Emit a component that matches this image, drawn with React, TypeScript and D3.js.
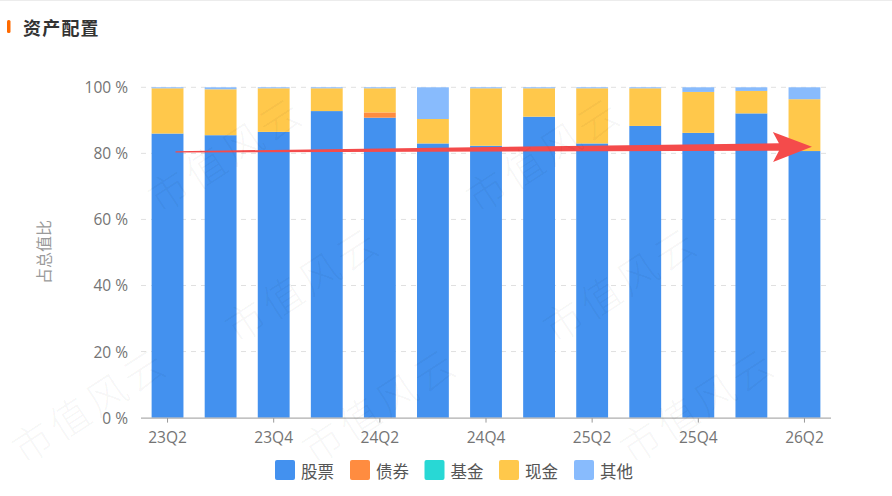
import React from 'react';
import * as d3 from 'd3';

const categories = ['23Q2', '23Q3', '23Q4', '24Q1', '24Q2', '24Q3', '24Q4', '25Q1', '25Q2', '25Q3', '25Q4', '26Q1', '26Q2'];
const stockValues = [86.0, 85.5, 86.5, 92.8, 90.8, 83.0, 82.3, 91.1, 83.0, 88.3, 86.2, 92.1, 80.7];
const bondValues = [0, 0, 0, 0, 1.6, 0, 0, 0, 0, 0, 0, 0, 0];
const fundValues = [0, 0, 0, 0, 0, 0, 0, 0, 0, 0, 0, 0, 0];
const cashValues = [13.7, 13.9, 13.2, 6.9, 7.3, 7.4, 17.4, 8.6, 16.7, 11.4, 12.4, 6.8, 15.7];
const otherValues = [0.3, 0.6, 0.3, 0.3, 0.3, 9.6, 0.3, 0.3, 0.3, 0.3, 1.4, 1.1, 3.6];

const seriesKeys = ['stock', 'bond', 'fund', 'cash', 'other'];
const seriesNames = ['股票', '债券', '基金', '现金', '其他'];
const seriesColors = ['#4391ef', '#ff8c40', '#28d8d5', '#ffc84b', '#88bbfd'];

const yTicks = [0, 20, 40, 60, 80, 100];
const xTickLabels = ['23Q2', '23Q4', '24Q2', '24Q4', '25Q2', '25Q4', '26Q2'];
const title = '资产配置';
const yAxisName = '占总值比';
const watermarkText = '市值风云';
// trend arrow annotation (value-space endpoints)
const arrowStartValue = 80.45;
const arrowEndValue = 82.0;

const W = 892;
const H = 496;
const LATIN = "'Open Sans', 'Noto Sans CJK SC', sans-serif";
const CJK = "'Noto Sans CJK SC', sans-serif";

export default function App() {
  const rows = categories.map((c, i) => ({
    cat: c,
    stock: stockValues[i],
    bond: bondValues[i],
    fund: fundValues[i],
    cash: cashValues[i],
    other: otherValues[i],
  }));
  const stacked = d3.stack<any>().keys(seriesKeys)(rows);

  const x = d3.scaleBand<string>().domain(categories).range([141, 831]).paddingInner(0.4).paddingOuter(0.2);
  const y = d3.scaleLinear().domain([0, 100]).range([417.6, 87.3]);
  const bw = x.bandwidth();
  const cx = (c: string) => (x(c) as number) + bw / 2;

  // arrow geometry
  const sx = cx(categories[0]) + 8;
  const sy = y(arrowStartValue);
  const tx = cx(categories[categories.length - 1]) + 7.5;
  const ty = y(arrowEndValue);
  const len = Math.hypot(tx - sx, ty - sy);
  const ux = (tx - sx) / len;
  const uy = (ty - sy) / len;
  const nx = -uy;
  const ny = ux;
  const headLen = 39;
  const bx = tx - ux * headLen;
  const by = ty - uy * headLen;
  const jx = bx + ux * 6;
  const jy = by + uy * 6;
  const pts: [number, number][] = [
    [sx + nx * 0.7, sy + ny * 0.7],
    [jx + nx * 3.8, jy + ny * 3.8],
    [bx + nx * 15, by + ny * 15],
    [tx, ty],
    [bx - nx * 15, by - ny * 15],
    [jx - nx * 3.8, jy - ny * 3.8],
    [sx - nx * 0.7, sy - ny * 0.7],
  ];
  const arrowPath = 'M' + pts.map((p) => p.join(',')).join('L') + 'Z';

  // watermark tiling (only instances that fit fully inside the frame)
  const marks: { x: number; y: number }[] = [];
  for (let r = 0; r < 4; r++) {
    for (let c = -1; c < 3; c++) {
      const mx = 83 + 77 * r + 318 * c;
      const my = 85 + 130 * r;
      const px = mx < 0 && mx > -10 ? 24 : mx;
      const py = my > H - 30 ? H - 30 : my;
      if (px >= 20 && px + 175 <= W && py - 135 >= 0 && py + 8 <= H) marks.push({ x: px, y: py });
    }
  }

  const legendX = [275, 350, 424.5, 499, 574];

  return (
    <svg
      width={W}
      height={H}
      viewBox={`0 0 ${W} ${H}`}
      style={{ position: 'absolute', left: 0, top: 0, background: '#fff', display: 'block' }}
    >
      <line x1={0} x2={W} y1={0.5} y2={0.5} stroke="#ececec" strokeWidth={1} />
      {/* title */}
      <rect x={7} y={20} width={3.5} height={13} rx={1.5} fill="#ff6a00" />
      <text x={23} y={35} fontFamily={CJK} fontSize={18} fontWeight={700} fill="#333" letterSpacing={1.2}>
        {title}
      </text>

      {/* grid lines */}
      {yTicks.filter((t) => t > 0).map((t) => (
        <line key={'g' + t} x1={141} x2={831} y1={y(t)} y2={y(t)} stroke="#e0e0e0" strokeWidth={1} strokeDasharray="5,5" />
      ))}

      {/* bars */}
      {stacked.map((s, si) => (
        <g key={s.key} fill={seriesColors[si]}>
          {s.map((d: any, i: number) => {
            const h = y(d[0]) - y(d[1]);
            if (h <= 0) return null;
            return <rect key={i} x={x(categories[i])} y={y(d[1])} width={bw} height={h} />;
          })}
        </g>
      ))}

      {/* x axis */}
      <line x1={141} x2={831} y1={y(0) + 0.5} y2={y(0) + 0.5} stroke="#999" strokeWidth={1} />
      {xTickLabels.map((c) => (
        <g key={'xt' + c}>
          <line x1={cx(c)} x2={cx(c)} y1={y(0) + 0.5} y2={y(0) + 5} stroke="#999" strokeWidth={1} />
          <text x={cx(c)} y={437} textAnchor="middle" dominantBaseline="central" fontFamily={LATIN} fontSize={15.5} fill="#747474">
            {c}
          </text>
        </g>
      ))}

      {/* y axis labels */}
      {yTicks.map((t) => (
        <text key={'yt' + t} x={128} y={y(t)} textAnchor="end" dominantBaseline="central" fontFamily={LATIN} fontSize={15.5} fill="#747474">
          {`${t} %`}
        </text>
      ))}
      <text
        transform={`translate(43,252) rotate(-90)`}
        textAnchor="middle"
        dominantBaseline="central"
        fontFamily={CJK}
        fontSize={16}
        fill="#9a9a9a"
      >
        {yAxisName}
      </text>

      {/* trend arrow */}
      <path d={arrowPath} fill="#f44b4b" />

      {/* legend */}
      {seriesNames.map((n, i) => (
        <g key={'lg' + n}>
          <rect x={legendX[i]} y={460} width={20} height={20} rx={2} fill={seriesColors[i]} />
          <text x={legendX[i] + 26} y={470.5} dominantBaseline="central" fontFamily={CJK} fontSize={16.5} fill="#555">
            {n}
          </text>
        </g>
      ))}

      {/* watermark */}
      {marks.map((m, i) => (
        <text
          key={'wm' + i}
          transform={`translate(${m.x},${m.y}) rotate(-33)`}
          fontFamily={CJK}
          fontWeight={300}
          fontSize={40}
          letterSpacing={4}
          fill="#000"
          fillOpacity={0.045}
        >
          {watermarkText}
        </text>
      ))}
    </svg>
  );
}
